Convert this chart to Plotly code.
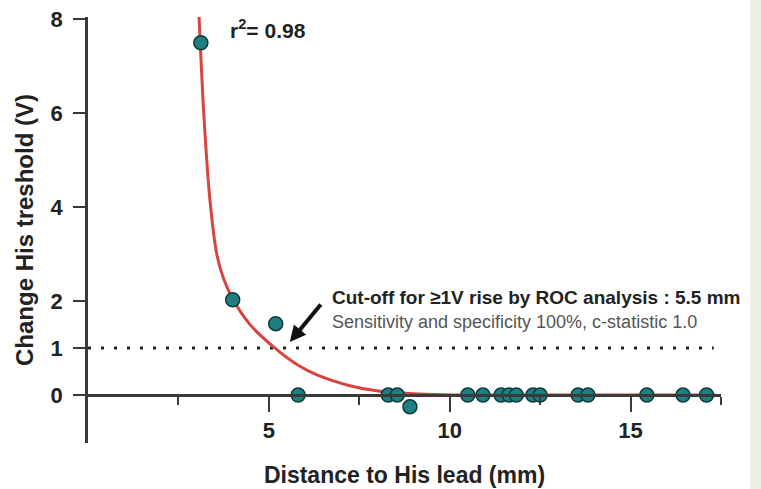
import plotly.graph_objects as go

# Measured data points (distance mm, change in His threshold V)
dist_mm = [3.12, 4.0, 5.19, 5.81, 8.3, 8.55, 8.9, 10.5, 10.92, 11.42, 11.64, 11.84,
           12.3, 12.5, 13.55, 13.82, 15.45, 16.45, 17.1]
delta_v = [7.5, 2.03, 1.52, 0.0, 0.0, 0.0, -0.25, 0.0, 0.0, 0.0, 0.0, 0.0,
           0.0, 0.0, 0.0, 0.0, 0.0, 0.0, 0.0]

# Fitted curve
fit_x = [3.07, 3.2, 3.37, 3.56, 3.74, 4.0, 4.48, 5.17, 5.8, 6.33, 7.24, 8.07, 9.0, 10.5, 17.35]
fit_y = [8.05, 6.0, 4.16, 3.0, 2.5, 2.05, 1.5, 1.0, 0.64, 0.43, 0.2, 0.08, 0.03, 0.0, 0.0]

# ROC cut-off reference line
cutoff_x = [0, 17.3]
cutoff_y = [1, 1]

y_ticks = [0, 1, 2, 4, 6, 8]
x_ticks = [5, 10, 15]
x_minor_ticks = [2.5, 7.5, 12.5, 17.5]

x_range = [0, 17.5]
y_range = [-1.02, 8.05]

AX = "#3a3a3a"
FONT = "Liberation Sans, Arial, sans-serif"

fig = go.Figure()
fig.add_trace(go.Scatter(x=cutoff_x, y=cutoff_y, mode="lines",
                         line=dict(color="#222222", width=3, dash="3px,10px"),
                         hoverinfo="skip", showlegend=False))
fig.add_trace(go.Scatter(x=fit_x, y=fit_y, mode="lines",
                         line=dict(color="#d8453f", width=3, shape="spline", smoothing=0.8),
                         showlegend=False))
fig.add_trace(go.Scatter(x=dist_mm, y=delta_v, mode="markers",
                         marker=dict(size=14, color="#1f7e80",
                                     line=dict(color="#0b3d3f", width=1.5)),
                         cliponaxis=False, showlegend=False))

pos0 = (0 - y_range[0]) / (y_range[1] - y_range[0])

fig.update_layout(
    width=761, height=489,
    margin=dict(l=88, r=40, t=17, b=46),
    paper_bgcolor="white", plot_bgcolor="white",
    font=dict(family=FONT, color="#222222"),
    xaxis=dict(
        range=x_range, anchor="free", position=pos0,
        showgrid=False, zeroline=False,
        showline=True, linecolor=AX, linewidth=2.5,
        tickmode="array", tickvals=x_ticks,
        ticks="outside", ticklen=15, tickwidth=2, tickcolor=AX,
        ticklabelstandoff=0,
        tickfont=dict(size=22, weight="bold", color="#222222"),
        minor=dict(tickmode="array", tickvals=x_minor_ticks, ticks="outside",
                   ticklen=8, tickwidth=2, tickcolor=AX, showgrid=False),
        title=dict(text="Distance to His lead (mm)", standoff=24,
                   font=dict(size=23, weight="bold", color="#222222")),
        automargin=False,
    ),
    yaxis=dict(
        range=y_range,
        showgrid=False, zeroline=False,
        showline=True, linecolor=AX, linewidth=2.5,
        tickmode="array", tickvals=y_ticks,
        ticks="outside", ticklen=12, tickwidth=2, tickcolor=AX,
        ticklabelstandoff=6,
        tickfont=dict(size=22, weight="bold", color="#222222"),
        title=dict(text="Change His treshold (V)", standoff=11,
                   font=dict(size=24, weight="bold", color="#222222")),
        automargin=False,
    ),
    shapes=[dict(type="rect", xref="paper", yref="paper",
                 x0=1.046, x1=1.08, y0=-0.2, y1=1.1,
                 fillcolor="#f0efe7", line=dict(width=0), layer="below")],
    annotations=[
        dict(x=3.88, y=7.8, xref="x", yref="y", xanchor="left", text="r<sup>2</sup>= 0.98",
             showarrow=False, font=dict(size=21, weight="bold", color="#222222")),
        dict(x=6.69, y=2.07, xref="x", yref="y", xanchor="left",
             text="Cut-off for \u22651V rise by ROC analysis : 5.5 mm",
             showarrow=False, font=dict(size=19, weight="bold", color="#222222")),
        dict(x=6.69, y=1.56, xref="x", yref="y", xanchor="left",
             text="Sensitivity and specificity 100%, c-statistic 1.0",
             showarrow=False, font=dict(size=18, color="#555555")),
        dict(x=5.58, y=1.13, xref="x", yref="y", ax=6.47, ay=1.96,
             axref="x", ayref="y", text="", showarrow=True,
             arrowhead=2, arrowsize=0.8, arrowwidth=4, arrowcolor="#111111"),
    ],
)

fig.write_html("out.html")
